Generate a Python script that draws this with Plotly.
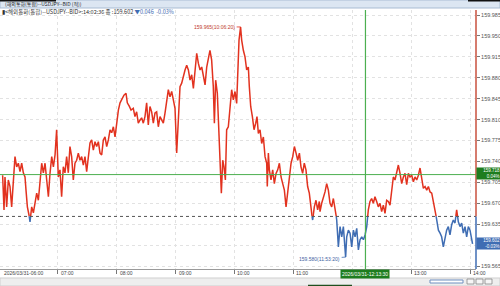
import plotly.graph_objects as go
import pandas as pd

# ---------------- data ----------------
minutes = [
    3.9, 5.3, 6.3, 8.0, 9.7, 11.4, 13.1, 14.8, 16.5, 18.2,
    19.9, 21.6, 23.3, 25.0, 26.7, 27.7, 29.1, 30.8, 31.8, 33.5,
    35.2, 36.9, 38.6, 40.3, 42.0, 43.7, 45.4, 47.1, 48.8, 50.5,
    52.2, 53.9, 55.6, 57.3, 58.9, 60.6, 62.3, 64.0, 65.7, 67.4,
    69.1, 70.8, 72.5, 74.2, 75.9, 77.6, 79.3, 81.0, 82.7, 84.4,
    86.1, 87.8, 89.5, 91.2, 92.9, 94.6, 96.3, 98.0, 99.7, 101.4,
    103.1, 104.8, 106.5, 108.2, 109.9, 111.6, 113.3, 115.0, 116.7, 118.4,
    120.1, 121.8, 123.5, 125.2, 127.5, 129.6, 130.9, 133.0, 134.7, 137.0,
    138.7, 140.4, 142.1, 143.8, 145.5, 147.2, 148.9, 150.6, 152.3, 154.0,
    155.7, 157.4, 159.1, 160.8, 162.5, 164.2, 167.6, 169.3, 171.0, 172.7,
    174.4, 176.1, 177.8, 179.5, 181.2, 182.9, 184.6, 186.3, 188.0, 189.7,
    191.4, 193.1, 194.8, 196.5, 198.2, 199.9, 201.6, 203.3, 205.0, 206.7,
    208.4, 210.1, 211.8, 213.4, 215.1, 216.8, 218.5, 219.6, 220.9, 222.6,
    224.3, 226.0, 226.7, 228.1, 229.4, 230.8, 232.1, 233.8, 235.5, 237.2,
    238.9, 240.6, 242.3, 243.3, 244.7, 246.3, 247.4, 249.1, 250.8, 252.5,
    254.2, 255.2, 256.6, 258.3, 260.0, 261.7, 263.0, 264.4, 266.1, 267.8,
    269.5, 271.2, 272.9, 273.5, 274.6, 275.6, 277.3, 279.0, 280.7, 282.4,
    284.1, 285.8, 287.5, 289.2, 290.9, 292.6, 294.3, 296.0, 297.7, 299.4,
    301.1, 302.8, 304.5, 306.2, 307.8, 309.5, 311.2, 312.9, 314.6, 316.3,
    318.0, 319.7, 321.4, 323.1, 324.8, 326.5, 327.2, 328.9, 330.6, 332.3,
    334.0, 335.7, 337.4, 339.1, 340.8, 342.5, 344.2, 345.9, 347.6, 349.3,
    351.0, 353.3, 354.4, 356.1, 357.8, 359.5, 361.2, 362.9, 364.6, 366.3,
    368.0, 369.7, 371.4, 373.1, 374.8, 376.4, 378.1, 379.8, 381.5, 383.2,
    384.9, 386.6, 388.3, 390.0, 391.7, 393.4, 395.1, 396.8, 398.5, 400.2,
    401.9, 403.6, 405.3, 407.0, 408.7, 410.4, 412.1, 413.8, 415.5, 417.2,
    418.9, 420.6, 422.3, 424.0, 425.7, 427.4, 429.1, 430.8, 432.5, 434.2,
    435.9, 437.6, 439.3, 441.0, 442.7, 444.4, 446.1, 447.8, 449.5, 451.1,
    452.8, 454.5, 456.2, 457.9, 459.6, 461.3, 463.0, 464.7, 466.4, 468.1,
    469.8, 471.5, 473.2, 474.9, 476.6, 478.3, 480.0, 482.6,
]
prices = [
    159.717, 159.659, 159.714, 159.664, 159.709, 159.698, 159.664, 159.704, 159.748, 159.731,
    159.737, 159.723, 159.737, 159.721, 159.714, 159.692, 159.664, 159.650, 159.639, 159.664,
    159.654, 159.670, 159.687, 159.675, 159.704, 159.737, 159.721, 159.737, 159.709, 159.681,
    159.721, 159.748, 159.731, 159.751, 159.793, 159.714, 159.726, 159.681, 159.731, 159.721,
    159.748, 159.721, 159.765, 159.748, 159.709, 159.737, 159.742, 159.754, 159.742, 159.748,
    159.734, 159.748, 159.723, 159.754, 159.771, 159.776, 159.759, 159.773, 159.765, 159.773,
    159.754, 159.751, 159.776, 159.781, 159.765, 159.776, 159.793, 159.788, 159.798, 159.781,
    159.809, 159.826, 159.838, 159.843, 159.851, 159.854, 159.838, 159.832, 159.826, 159.829,
    159.815, 159.823, 159.804, 159.809, 159.813, 159.804, 159.815, 159.838, 159.801, 159.832,
    159.823, 159.804, 159.821, 159.823, 159.798, 159.815, 159.804, 159.821, 159.838, 159.860,
    159.848, 159.857, 159.843, 159.829, 159.754, 159.804, 159.865, 159.871, 159.885, 159.893,
    159.901, 159.893, 159.876, 159.885, 159.862, 159.887, 159.921, 159.904, 159.893, 159.898,
    159.882, 159.868, 159.898, 159.915, 159.926, 159.910, 159.865, 159.804, 159.876, 159.854,
    159.793, 159.731, 159.687, 159.742, 159.731, 159.709, 159.793, 159.798, 159.837, 159.860,
    159.843, 159.857, 159.837, 159.893, 159.943, 159.965, 159.943, 159.926, 159.915, 159.893,
    159.898, 159.865, 159.832, 159.815, 159.793, 159.804, 159.815, 159.787, 159.793, 159.770,
    159.781, 159.748, 159.737, 159.698, 159.754, 159.726, 159.709, 159.726, 159.703, 159.720,
    159.726, 159.737, 159.714, 159.703, 159.692, 159.664, 159.692, 159.714, 159.737, 159.748,
    159.765, 159.754, 159.742, 159.754, 159.731, 159.720, 159.737, 159.726, 159.698, 159.687,
    159.659, 159.642, 159.664, 159.675, 159.659, 159.673, 159.656, 159.670, 159.678, 159.689,
    159.703, 159.692, 159.670, 159.664, 159.678, 159.664, 159.642, 159.597, 159.631, 159.614,
    159.631, 159.580, 159.614, 159.625, 159.620, 159.597, 159.625, 159.614, 159.628, 159.592,
    159.609, 159.614, 159.609, 159.617, 159.631, 159.659, 159.673, 159.678, 159.670, 159.681,
    159.673, 159.664, 159.670, 159.656, 159.667, 159.653, 159.675, 159.673, 159.667, 159.692,
    159.714, 159.709, 159.720, 159.734, 159.720, 159.703, 159.714, 159.720, 159.701, 159.720,
    159.714, 159.717, 159.706, 159.714, 159.709, 159.717, 159.729, 159.714, 159.695, 159.698,
    159.692, 159.698, 159.689, 159.687, 159.670, 159.659, 159.642, 159.625, 159.620, 159.614,
    159.597, 159.614, 159.625, 159.631, 159.617, 159.634, 159.642, 159.637, 159.659, 159.639,
    159.631, 159.637, 159.620, 159.631, 159.614, 159.631, 159.625, 159.602,
]
session_start = "2026-03-31 06:00:00"
base_price = 159.648          # previous close (dotted line)
cross_price = 159.718         # crosshair level
cross_time = "2026-03-31 12:13:30"
cross_pct = "0.04%"
last_price = 159.602
last_pct = "-0.03%"
hi_price, hi_time = 159.965, "2026-03-31 10:06:20"
lo_price, lo_time = 159.580, "2026-03-31 11:53:20"
y_ticks = [159.565, 159.600, 159.635, 159.670, 159.705, 159.740, 159.775,
           159.810, 159.845, 159.880, 159.915, 159.950, 159.985]
hidden_ticks = [159.600]       # covered by the last-price badge
hour_ticks = ["06:00", "07:00", "08:00", "09:00", "10:00", "11:00",
              "12:00", "13:00", "14:00"]
hour_labels = ["2026/03/31-06:00", "07:00", "08:00", "09:00", "10:00",
               "11:00", "", "13:00", "14:00"]

RED = "#e2321f"
BLUE = "#3f6db3"
XGREEN = "#4caf50"
KFONT = "Noto Sans CJK KR"
LFONT = "Liberation Sans"

start = pd.Timestamp(session_start)
ts = [(start + pd.Timedelta(minutes=m)).to_pydatetime() for m in minutes]


def split_by_base(ts, ps, base):
    above = {"x": [], "y": []}
    below = {"x": [], "y": []}
    cur = above if ps[0] >= base else below
    cur["x"].append(ts[0]); cur["y"].append(ps[0])
    for i in range(1, len(ps)):
        s0, s1 = ps[i - 1] >= base, ps[i] >= base
        if s0 != s1:
            f = (base - ps[i - 1]) / (ps[i] - ps[i - 1])
            tc = ts[i - 1] + (ts[i] - ts[i - 1]) * f
            cur["x"] += [tc, None]; cur["y"] += [base, None]
            cur = above if s1 else below
            cur["x"].append(tc); cur["y"].append(base)
        cur["x"].append(ts[i]); cur["y"].append(ps[i])
    return above, below


above, below = split_by_base(ts, prices, base_price)

fig = go.Figure()
fig.add_trace(go.Scatter(x=above["x"], y=above["y"], mode="lines",
                         line=dict(color=RED, width=1.5), connectgaps=False,
                         hoverinfo="skip"))
fig.add_trace(go.Scatter(x=below["x"], y=below["y"], mode="lines",
                         line=dict(color=BLUE, width=1.5), connectgaps=False,
                         hoverinfo="skip"))

# geometry
W, H = 500, 286
ML, MR, MT, MB = 0, 24, 10, 17
plot_h = H - MT - MB
per_px = 0.001673
y_top = 159.985 + 5 * per_px
y_bot = y_top - plot_h * per_px
x_lo = start + pd.Timedelta(minutes=1.22)
x_hi = start + pd.Timedelta(minutes=486.1)


def py(p):  # pixel row -> paper y
    return (H - MB - p) / plot_h


def px(q):  # pixel col -> paper x
    return q / (W - ML - MR)


hour_vals = [pd.Timestamp("2026-03-31 " + h) for h in hour_ticks]
y_text = ["" if v in hidden_ticks else f"{v:.3f}" for v in y_ticks]

fig.update_layout(
    width=W, height=H,
    margin=dict(l=ML, r=MR, t=MT, b=MB),
    paper_bgcolor="white", plot_bgcolor="white",
    showlegend=False,
    xaxis=dict(type="date", range=[x_lo, x_hi], tickvals=hour_vals,
               showticklabels=False, ticks="outside", ticklen=4,
               tickcolor="#777", showgrid=True, gridcolor="#e2e2e2",
               griddash="dot", gridwidth=1, showline=True,
               linecolor="#9a9a9a", linewidth=1, zeroline=False,
               fixedrange=True),
    yaxis=dict(side="right", range=[y_bot, y_top], tickvals=y_ticks,
               ticktext=y_text, ticks="outside", ticklen=3,
               tickcolor="#777", tickfont=dict(size=5.5, color="#555",
                                               family=LFONT),
               showgrid=True, gridcolor="#e2e2e2", griddash="dot",
               showline=False, zeroline=False, fixedrange=True),
)

shapes = []
# title bar
shapes.append(dict(type="rect", xref="paper", yref="paper", x0=0, x1=px(W),
                   y0=py(8), y1=py(0), fillcolor="#dce6f2",
                   line=dict(color="#a9bcd3", width=1), layer="above"))
shapes.append(dict(type="rect", xref="paper", yref="paper", x0=0, x1=px(56),
                   y0=py(1.5), y1=py(0), fillcolor="#111", line=dict(width=0),
                   layer="above"))
shapes.append(dict(type="rect", xref="paper", yref="paper", x0=px(468),
                   x1=px(W), y0=py(1.5), y1=py(0), fillcolor="#111",
                   line=dict(width=0), layer="above"))
# bottom scroll strip
shapes.append(dict(type="rect", xref="paper", yref="paper", x0=0, x1=px(W),
                   y0=py(286), y1=py(278), fillcolor="#eeeeee",
                   line=dict(color="#cfcfcf", width=1), layer="above"))
shapes.append(dict(type="rect", xref="paper", yref="paper", x0=px(430),
                   x1=px(463), y0=py(283), y1=py(280), fillcolor="white",
                   line=dict(color="#6f8fc0", width=1), layer="above"))
for bx in (467, 476, 485):
    shapes.append(dict(type="rect", xref="paper", yref="paper", x0=px(bx),
                       x1=px(bx + 7), y0=py(284), y1=py(279),
                       fillcolor="#f6f6f6", line=dict(color="#888", width=0.8),
                       layer="above"))
shapes.append(dict(type="rect", xref="paper", yref="paper", x0=px(308),
                   x1=px(352), y0=py(286), y1=py(284.8), fillcolor="#1f4f1f",
                   line=dict(width=0), layer="above"))
# base (previous close) dotted line
shapes.append(dict(type="line", xref="paper", yref="y", x0=0, x1=1,
                   y0=base_price, y1=base_price,
                   line=dict(color="#555", width=1, dash="dot")))
# crosshair
shapes.append(dict(type="line", xref="paper", yref="y", x0=0, x1=1,
                   y0=cross_price, y1=cross_price,
                   line=dict(color=XGREEN, width=1)))
shapes.append(dict(type="line", xref="x", yref="y", x0=cross_time,
                   x1=cross_time, y0=y_bot, y1=y_top,
                   line=dict(color=XGREEN, width=1.2)))
# right axis line coloured by side of base
shapes.append(dict(type="line", xref="paper", yref="y", x0=1, x1=1,
                   y0=base_price, y1=y_top, line=dict(color="#c9503e", width=1.5)))
shapes.append(dict(type="line", xref="paper", yref="y", x0=1, x1=1,
                   y0=y_bot, y1=base_price, line=dict(color=BLUE, width=1.5)))
fig.update_layout(shapes=shapes)

ann = []
# x tick labels, left aligned at tick
for v, lab in zip(hour_vals, hour_labels):
    if not lab:
        continue
    if v < x_lo:
        ann.append(dict(x=px(2), y=0, xref="paper", yref="paper", text=lab,
                        showarrow=False, xanchor="left", yanchor="top",
                        yshift=1, font=dict(size=5, color="#444", family=LFONT)))
    else:
        ann.append(dict(x=v, y=0, xref="x", yref="paper", text=lab,
                        showarrow=False, xanchor="left", yanchor="top",
                        xshift=1, yshift=1,
                        font=dict(size=5, color="#444", family=LFONT)))
# crosshair time label
ann.append(dict(x=cross_time, y=0, xref="x", yref="paper",
                text="2026/03/31-12:13:30", showarrow=False,
                xanchor="center", yanchor="top", yshift=0,
                bgcolor="#1e7d1e", borderpad=1,
                font=dict(size=5, color="white", family=LFONT)))
# crosshair price label
ann.append(dict(x=1, y=cross_price, xref="paper", yref="y",
                text=f"{cross_price:.3f}<br>{cross_pct}", showarrow=False,
                xanchor="left", yanchor="middle", bgcolor="#1e7d1e",
                borderpad=0, width=23, align="right", yshift=1,
                font=dict(size=4.5, color="white", family=LFONT)))
# last price label
ann.append(dict(x=1, y=last_price, xref="paper", yref="y",
                text=f"{last_price:.3f}<br>{last_pct}", showarrow=False,
                xanchor="left", yanchor="middle", bgcolor=BLUE,
                borderpad=0, width=23, align="right",
                font=dict(size=4.5, color="white", family=LFONT)))
# high / low markers
ann.append(dict(x=hi_time, y=hi_price, xref="x", yref="y",
                text=f"{hi_price:.3f}({hi_time[-8:]})", showarrow=True,
                arrowhead=0, arrowwidth=0.8, arrowcolor=RED, ax=-26, ay=0,
                font=dict(size=5, color="#c0392b", family=LFONT)))
ann.append(dict(x=lo_time, y=lo_price, xref="x", yref="y",
                text=f"{lo_price:.3f}({lo_time[-8:]})", showarrow=True,
                arrowhead=0, arrowwidth=0.8, arrowcolor=BLUE, ax=-26, ay=2,
                font=dict(size=5, color="#3f5f9f", family=LFONT)))
# header texts
ann.append(dict(x=px(4), y=py(4.5), xref="paper", yref="paper",
                text="(해외통화(통합)--USDJPY--BID (적))", showarrow=False,
                xanchor="left", yanchor="middle", borderpad=0,
                font=dict(size=5, color="#222", family=KFONT)))
ann.append(dict(x=px(1), y=py(12), xref="paper", yref="paper",
                text=("▮<해외통화(통합)--USDJPY--BID>:14:02:36 종 :159.602 "
                      "<span style='color:#3f6db3'>▼0.046  -0.03%</span>"),
                showarrow=False, xanchor="left", yanchor="middle", borderpad=0,
                font=dict(size=5.5, color="#333", family=KFONT)))
fig.update_layout(annotations=ann)

fig.write_html("out.html")
